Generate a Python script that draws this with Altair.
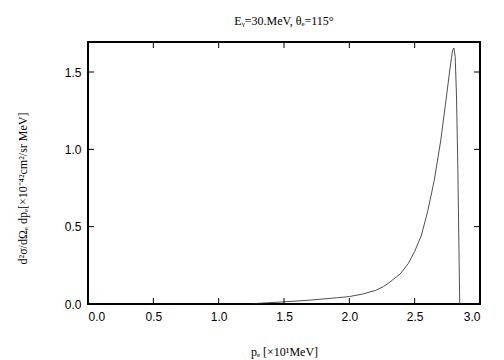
import altair as alt
import pandas as pd

# curve data
p_vals = [1.25, 1.30, 1.50, 1.70, 1.90, 2.00, 2.10, 2.20, 2.26, 2.30, 2.39, 2.45, 2.50, 2.55,
          2.60, 2.65, 2.70, 2.74, 2.77, 2.79, 2.80, 2.81, 2.82, 2.83, 2.84, 2.845]
xs_vals = [0.0, 0.004, 0.014, 0.025, 0.040, 0.048, 0.064, 0.088, 0.112, 0.135, 0.195, 0.26, 0.34, 0.44,
           0.60, 0.80, 1.06, 1.32, 1.52, 1.64, 1.655, 1.60, 1.35, 0.90, 0.30, 0.0]

x_ticks = [0.0, 0.5, 1.0, 1.5, 2.0, 2.5, 3.0]
y_ticks = [0.0, 0.5, 1.0, 1.5]

W, H = 392, 262
TL = 6

df = pd.DataFrame({"p": p_vals, "v": xs_vals})
dfx = pd.DataFrame({"p": x_ticks})
dfy = pd.DataFrame({"v": y_ticks})

xscale = alt.Scale(domain=[0, 3], nice=False, zero=False)
yscale = alt.Scale(domain=[0, 1.694], nice=False, zero=False)

lab_font = "Liberation Sans"
ser_font = "Liberation Serif"

xaxis = alt.Axis(values=x_ticks, format=".1f", ticks=False, domain=False, grid=False,
                 labelPadding=7, labelFont=lab_font, labelFontSize=12, labelColor="black",
                 title="pₑ [×10¹MeV]", titleFont=ser_font, titleFontSize=12,
                 titleFontWeight="normal", titleColor="black",
                 titleY=47, titleBaseline="middle")
yaxis = alt.Axis(values=y_ticks, format=".1f", ticks=False, domain=False, grid=False,
                 labelPadding=7, labelFont=lab_font, labelFontSize=12, labelColor="black",
                 title="d²σ/dΩₑ dpₑ[×10⁻⁴²cm²/sr MeV]", titleFont=ser_font, titleFontSize=12,
                 titleFontWeight="normal", titleColor="black",
                 titleAngle=-90, titleX=-66, titleY=146, titleAlign="center",
                 titleBaseline="middle")

line = alt.Chart(df).mark_line(color="#222222", strokeWidth=0.8).encode(
    x=alt.X("p:Q", scale=xscale, axis=xaxis),
    y=alt.Y("v:Q", scale=yscale, axis=yaxis),
)

tick_style = dict(color="black", strokeWidth=1)

bottom = alt.Chart(dfx).mark_rule(**tick_style).encode(
    x=alt.X("p:Q", scale=xscale, axis=xaxis), y=alt.value(H), y2=alt.value(H - TL))
top = alt.Chart(dfx).mark_rule(**tick_style).encode(
    x=alt.X("p:Q", scale=xscale, axis=xaxis), y=alt.value(0), y2=alt.value(TL))
left = alt.Chart(dfy).mark_rule(**tick_style).encode(
    y=alt.Y("v:Q", scale=yscale, axis=yaxis), x=alt.value(0), x2=alt.value(TL))
right = alt.Chart(dfy).mark_rule(**tick_style).encode(
    y=alt.Y("v:Q", scale=yscale, axis=yaxis), x=alt.value(W), x2=alt.value(W - TL))

chart = alt.layer(line, bottom, top, left, right).properties(
    width=W, height=H,
    background="white",
    title=alt.TitleParams("Eᵧ=30.MeV, θₑ=115°", font=ser_font, fontSize=12,
                          fontWeight="normal", color="black", offset=14, anchor="middle"),
    padding={"left": 80, "top": 34, "right": 16, "bottom": 56},
    autosize=alt.AutoSizeParams(type="none"),
).configure_view(stroke="black", strokeWidth=2)

chart.save("out.html", embed_options={"renderer": "svg", "actions": False})
